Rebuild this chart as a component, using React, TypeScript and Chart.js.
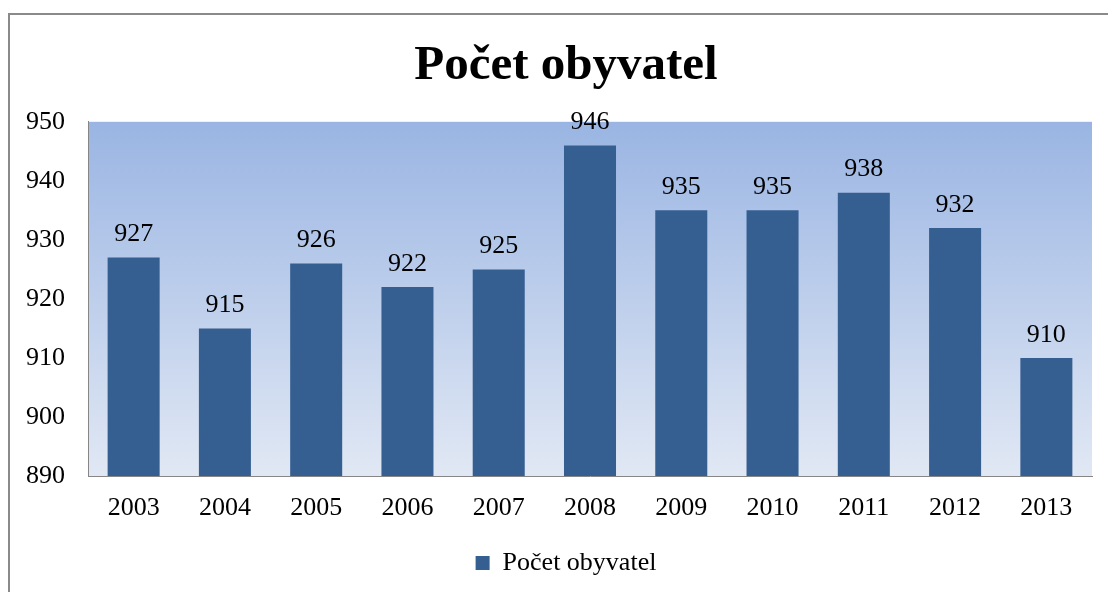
import React, { useEffect, useRef } from "react";
import { Chart, registerables } from "chart.js";

Chart.register(...registerables);

const categories = ["2003", "2004", "2005", "2006", "2007", "2008", "2009", "2010", "2011", "2012", "2013"];
const seriesName = "Počet obyvatel";
const values = [927, 915, 926, 922, 925, 946, 935, 935, 938, 932, 910];
const titleText = "Počet obyvatel";
const yMin = 890;
const yMax = 950;
const yStep = 10;

const FONT = "'Liberation Serif', 'Times New Roman', serif";

const frameAndBackground = {
  id: "frameAndBackground",
  beforeDraw(chart: any) {
    const { ctx, chartArea } = chart;
    ctx.save();
    ctx.fillStyle = "#ffffff";
    ctx.fillRect(0, 0, chart.width, chart.height);
    ctx.strokeStyle = "#8a8a8a";
    ctx.lineWidth = 2;
    ctx.strokeRect(9, 14, chart.width + 200, chart.height + 200);
    const g = ctx.createLinearGradient(0, chartArea.top, 0, chartArea.bottom);
    g.addColorStop(0, "#9ab5e3");
    g.addColorStop(1, "#e1e8f4");
    ctx.fillStyle = g;
    ctx.fillRect(chartArea.left, chartArea.top, chartArea.right - chartArea.left, chartArea.bottom - chartArea.top);
    ctx.restore();
  },
};

const valueLabels = {
  id: "valueLabels",
  afterDatasetsDraw(chart: any) {
    const { ctx } = chart;
    ctx.save();
    ctx.font = `26px ${FONT}`;
    ctx.fillStyle = "#000000";
    ctx.textAlign = "center";
    ctx.textBaseline = "middle";
    chart.data.datasets.forEach((ds: any, di: number) => {
      const meta = chart.getDatasetMeta(di);
      meta.data.forEach((bar: any, i: number) => {
        ctx.fillText(String(ds.data[i]), bar.x, bar.y - 23);
      });
    });
    ctx.restore();
  },
};

export default function App() {
  const ref = useRef<HTMLCanvasElement | null>(null);

  useEffect(() => {
    if (!ref.current) return;
    const chart = new Chart(ref.current, {
      type: "bar",
      data: {
        labels: categories,
        datasets: [
          {
            label: seriesName,
            data: values,
            backgroundColor: "#365f91",
            borderWidth: 0,
            barPercentage: 0.57,
            categoryPercentage: 1,
          },
        ],
      },
      options: {
        responsive: false,
        animation: false,
        layout: { padding: { left: 0, right: 0, top: 0, bottom: 6 } },
        plugins: {
          title: {
            display: true,
            text: titleText,
            color: "#000000",
            font: { family: FONT, size: 49, weight: "bold", lineHeight: 1.2 },
            padding: { top: 37, bottom: 26 },
          },
          legend: {
            display: true,
            position: "bottom",
            labels: {
              color: "#000000",
              font: { family: FONT, size: 26 },
              boxWidth: 14,
              boxHeight: 14,
              padding: 10,
            },
          },
          tooltip: { enabled: false },
        },
        scales: {
          x: {
            grid: { display: false, drawTicks: false },
            border: { display: true, color: "#868686", width: 1 },
            ticks: { color: "#000000", font: { family: FONT, size: 26 }, padding: 17, maxRotation: 0 },
            afterFit(scale: any) {
              scale.height = 64;
            },
          },
          y: {
            min: yMin,
            max: yMax,
            grid: { display: false, drawTicks: false },
            border: { display: true, color: "#868686", width: 1 },
            ticks: { stepSize: yStep, color: "#000000", font: { family: FONT, size: 26 }, padding: 23 },
            afterFit(scale: any) {
              scale.width = 88;
            },
          },
          yRightGap: {
            type: "linear",
            position: "right",
            display: true,
            min: yMin,
            max: yMax,
            grid: { display: false, drawTicks: false },
            border: { display: false },
            ticks: { display: false },
            afterFit(scale: any) {
              scale.width = 40;
            },
          },
        },
      },
      plugins: [frameAndBackground, valueLabels],
    });
    return () => chart.destroy();
  }, []);

  return (
    <div style={{ position: "fixed", left: 0, top: 0, width: 1108, height: 592, overflow: "hidden", background: "#fff" }}>
      <canvas ref={ref} width={1132} height={592} style={{ display: "block", width: 1132, height: 592 }} />
    </div>
  );
}
